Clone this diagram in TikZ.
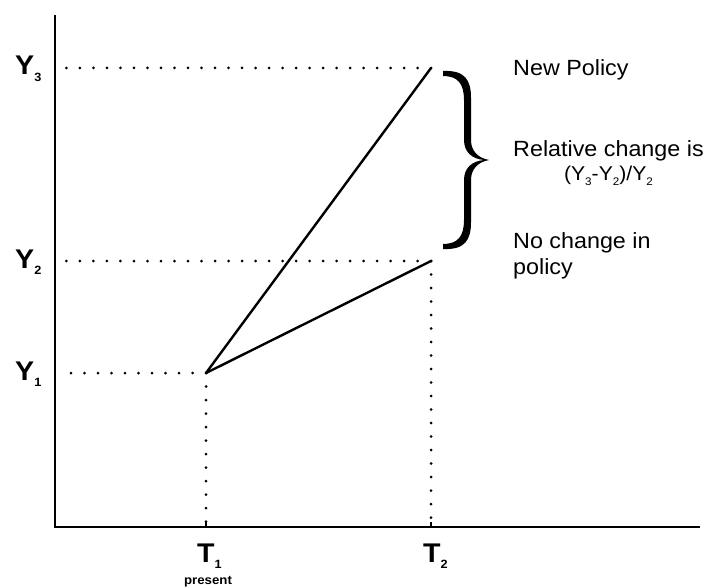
\documentclass[tikz,border=0pt]{standalone}
\usepackage{fontspec}
\setmainfont[FakeStretch=1.06]{Liberation Sans}
\newcommand{\subsc}[1]{\raisebox{-0.45ex}{\fontsize{12bp}{13bp}\selectfont #1}}
\begin{document}
\begin{tikzpicture}[x=1bp,y=-1bp,
  axis/.style={line width=2.8bp},
  solidline/.style={line width=2.4bp, line cap=round},
  dotline/.style={line width=3bp, line cap=round, dash pattern=on 0pt off 13.5bp},
  axlabel/.style={font=\fontsize{27bp}{30bp}\selectfont\bfseries, inner sep=0pt},
  sidetext/.style={font=\fontsize{22bp}{24bp}\selectfont, inner sep=0pt}]
\useasboundingbox (0,0) rectangle (708,587);
\fill[white] (0,0) rectangle (708,587);
% axes
\coordinate (O) at (55,527);
\coordinate (ytop) at (55,15);
\coordinate (xend) at (700,527);
\draw[axis] (ytop) -- (O) -- (xend);
% points
\coordinate (P1) at (206,373);
\coordinate (P2) at (431,261);
\coordinate (P3) at (431,68);
\coordinate (A1) at (59,373);
\coordinate (A2) at (60,261);
\coordinate (A3) at (65,68);
\coordinate (B1) at (206,527);
\coordinate (B2) at (431,527);
% ticks
\draw[line width=2bp] (B1) -- ++(0,-5);
\draw[line width=2bp] (B2) -- ++(0,-5);
% dotted guides
\draw[dotline] (P3) -- (A3);
\draw[dotline] (P2) -- (A2);
\draw[dotline] (P1) -- (A1);
\draw[dotline] (P1) -- (B1);
\draw[dotline] (P2) -- (B2);
% lines
\draw[solidline] (P1) -- (P3);
\draw[solidline] (P1) -- (P2);
% brace
\fill (443,71) .. controls (465,70) and (471,80) .. (471,98) -- (471,140)
  .. controls (471,151) and (478,158) .. (489,160)
  .. controls (478,162) and (471,169) .. (471,180) -- (471,222)
  .. controls (471,240) and (465,250) .. (443,249) -- (443,244)
  .. controls (458,244) and (464,236) .. (464,220) -- (464,180)
  .. controls (464,168) and (472,161) .. (484,160)
  .. controls (472,159) and (464,152) .. (464,140) -- (464,100)
  .. controls (464,84) and (458,76) .. (443,76) -- cycle;
% axis labels
\node[axlabel, anchor=base west] (y3) at (15,75) {Y\subsc{3}};
\node[axlabel, anchor=base west] (y2) at (15,268) {Y\subsc{2}};
\node[axlabel, anchor=base west] (y1) at (15,380) {Y\subsc{1}};
\node[axlabel, anchor=base west] (t1) at (197,562) {T\subsc{1}};
\node[axlabel, anchor=base west] (t2) at (423,562) {T\subsc{2}};
\node[font=\fontsize{12.5bp}{13bp}\selectfont\bfseries, inner sep=0pt, anchor=base] (pres) at (208,584) {present};
% side texts
\node[sidetext, anchor=base west] (np) at (513,76) {New Policy};
\node[sidetext, anchor=base west, align=center] (rc) at (513,181)
  {Relative change is\\{\fontsize{20bp}{22bp}\selectfont (Y\raisebox{-0.4ex}{\fontsize{11bp}{12bp}\selectfont 3}-Y\raisebox{-0.4ex}{\fontsize{11bp}{12bp}\selectfont 2})/Y\raisebox{-0.4ex}{\fontsize{11bp}{12bp}\selectfont 2}}};
\node[sidetext, anchor=base west, align=left] (nc) at (513,274) {No change in\\[2bp]policy};
\end{tikzpicture}
\end{document}
